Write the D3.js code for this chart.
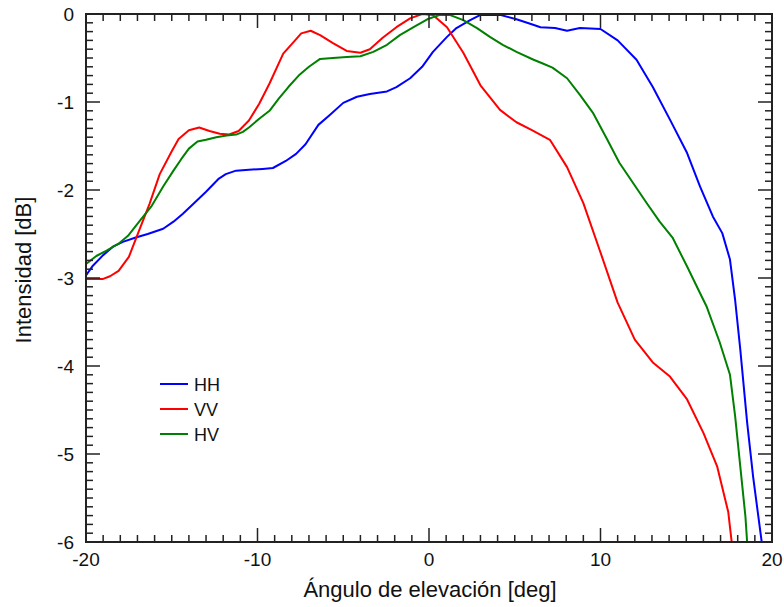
<!DOCTYPE html>
<html>
<head>
<meta charset="utf-8">
<script src="https://cdn.jsdelivr.net/npm/d3@7"></script>
<style>
  html, body { margin: 0; padding: 0; background: #fff; }
  svg { display: block; }
  text { font-family: "Liberation Sans", Arial, sans-serif; fill: #111; }
</style>
</head>
<body>
<svg id="chart" width="784" height="607"></svg>
<script>
// Elevation angle (deg) and relative intensity (dB) for each polarisation
const hhAngle = [-20, -19.6, -19.0, -18.4, -17.85, -17.1, -16.4, -15.5, -14.9, -14.35, -13.75, -13.0, -12.25, -11.85, -11.25, -10.5, -9.7, -9.1, -8.35, -7.75, -7.2, -6.45, -5.8, -5.0, -4.2, -3.45, -2.45, -1.9, -1.1, -0.4, 0.23, 1.05, 1.6, 2.4, 3.0, 4.14, 5.1, 5.9, 6.5, 7.35, 8.05, 8.8, 10.0, 11.0, 12.1, 13.05, 14.05, 15.05, 15.8, 16.55, 17.1, 17.55, 17.85, 18.15, 18.55, 18.9, 19.4];
const hhValue = [-2.97, -2.86, -2.74, -2.64, -2.59, -2.54, -2.50, -2.44, -2.36, -2.27, -2.16, -2.02, -1.87, -1.82, -1.78, -1.77, -1.76, -1.75, -1.67, -1.59, -1.48, -1.26, -1.15, -1.01, -0.94, -0.91, -0.88, -0.83, -0.73, -0.60, -0.43, -0.26, -0.16, -0.07, -0.01, -0.01, -0.06, -0.11, -0.15, -0.16, -0.19, -0.16, -0.17, -0.30, -0.52, -0.83, -1.20, -1.58, -1.96, -2.30, -2.49, -2.79, -3.25, -3.81, -4.64, -5.26, -6.0];

const vvAngle = [-20, -19.0, -18.6, -18.1, -17.5, -16.9, -16.3, -15.7, -15.0, -14.6, -14.0, -13.4, -12.8, -12.2, -11.65, -11.1, -10.5, -9.9, -9.3, -8.5, -7.9, -7.45, -6.9, -6.35, -5.6, -4.8, -4.0, -3.45, -2.7, -1.9, -1.1, -0.4, 0.23, 1.05, 2.0, 3.0, 4.14, 5.1, 6.0, 7.05, 8.05, 9.0, 10.0, 11.0, 12.0, 13.05, 14.05, 15.05, 16.0, 16.8, 17.45, 17.65];
const vvValue = [-3.01, -3.01, -2.98, -2.92, -2.76, -2.46, -2.16, -1.82, -1.56, -1.42, -1.32, -1.29, -1.33, -1.36, -1.37, -1.33, -1.21, -1.02, -0.79, -0.45, -0.32, -0.22, -0.19, -0.24, -0.33, -0.42, -0.44, -0.40, -0.27, -0.15, -0.05, 0.0, -0.01, -0.15, -0.44, -0.81, -1.09, -1.23, -1.32, -1.43, -1.74, -2.15, -2.71, -3.28, -3.70, -3.96, -4.12, -4.38, -4.76, -5.14, -5.66, -6.0];

const hvAngle = [-20, -19.4, -18.8, -18.1, -17.55, -16.9, -16.2, -15.5, -14.9, -14.45, -14.0, -13.5, -13.0, -12.4, -11.8, -11.25, -10.85, -10.5, -9.9, -9.3, -8.75, -8.2, -7.6, -7.0, -6.35, -5.6, -4.8, -4.0, -3.25, -2.45, -1.7, -0.9, -0.1, 0.64, 1.2, 2.0, 2.8, 3.55, 4.3, 5.1, 6.1, 6.6, 7.2, 8.05, 8.8, 9.55, 10.4, 11.1, 11.9, 12.7, 13.45, 14.2, 15.05, 15.8, 16.2, 16.95, 17.55, 17.85, 18.15, 18.45, 18.55];
const hvValue = [-2.84, -2.75, -2.69, -2.61, -2.52, -2.36, -2.19, -1.96, -1.78, -1.65, -1.53, -1.45, -1.43, -1.40, -1.38, -1.37, -1.34, -1.29, -1.19, -1.10, -0.96, -0.83, -0.70, -0.60, -0.51, -0.50, -0.49, -0.48, -0.43, -0.35, -0.24, -0.15, -0.06, -0.01, -0.01, -0.07, -0.16, -0.26, -0.35, -0.43, -0.52, -0.56, -0.61, -0.73, -0.92, -1.12, -1.43, -1.69, -1.92, -2.15, -2.36, -2.54, -2.87, -3.17, -3.33, -3.73, -4.10, -4.57, -5.14, -5.71, -6.0];

const seriesNames = ["HH", "VV", "HV"];
const seriesColors = ["#0000ff", "#ff0000", "#008000"];

const xTicks = [-20, -10, 0, 10, 20];
const yTicks = [0, -1, -2, -3, -4, -5, -6];

const series = [
  { name: seriesNames[0], color: seriesColors[0], pts: d3.zip(hhAngle, hhValue) },
  { name: seriesNames[1], color: seriesColors[1], pts: d3.zip(vvAngle, vvValue) },
  { name: seriesNames[2], color: seriesColors[2], pts: d3.zip(hvAngle, hvValue) }
];

const svg = d3.select("#chart");
const frame = { left: 86, right: 772, top: 14, bottom: 542 };

const x = d3.scaleLinear().domain([-20, 20]).range([frame.left, frame.right]);
const y = d3.scaleLinear().domain([-6, 0]).range([frame.bottom, frame.top]);

// clip curves to the plotting frame
svg.append("defs").append("clipPath").attr("id", "plotClip")
  .append("rect").attr("x", frame.left).attr("y", frame.top)
  .attr("width", frame.right - frame.left).attr("height", frame.bottom - frame.top);

const line = d3.line().x(d => x(d[0])).y(d => y(d[1]));

svg.append("g").attr("clip-path", "url(#plotClip)")
  .selectAll("path").data(series).join("path")
  .attr("d", d => line(d.pts))
  .attr("fill", "none")
  .attr("stroke", d => d.color)
  .attr("stroke-width", 2)
  .attr("stroke-linejoin", "round");

// frame and inward ticks on all four sides
const axisColor = "#222";
const majorLen = 14, minorLen = 7;
const xMinor = d3.range(-20, 20.001, 1).filter(v => !xTicks.includes(v));
const yMinor = d3.range(-60, 0.5, 1).map(v => v / 10).filter(v => !yTicks.includes(v));

const gAxes = svg.append("g").attr("stroke", axisColor).attr("stroke-width", 1.5);

function xTickLines(vals, len) {
  vals.forEach(v => {
    gAxes.append("line").attr("x1", x(v)).attr("x2", x(v)).attr("y1", frame.bottom).attr("y2", frame.bottom - len);
    gAxes.append("line").attr("x1", x(v)).attr("x2", x(v)).attr("y1", frame.top).attr("y2", frame.top + len);
  });
}
function yTickLines(vals, len) {
  vals.forEach(v => {
    gAxes.append("line").attr("x1", frame.left).attr("x2", frame.left + len).attr("y1", y(v)).attr("y2", y(v));
    gAxes.append("line").attr("x1", frame.right).attr("x2", frame.right - len).attr("y1", y(v)).attr("y2", y(v));
  });
}
xTickLines(xMinor, minorLen);
xTickLines(xTicks, majorLen);
yTickLines(yMinor, minorLen);
yTickLines(yTicks, majorLen);

gAxes.append("rect").attr("x", frame.left).attr("y", frame.top)
  .attr("width", frame.right - frame.left).attr("height", frame.bottom - frame.top)
  .attr("fill", "none").attr("stroke-width", 2);

// tick labels
svg.append("g").selectAll("text").data(xTicks).join("text")
  .attr("x", d => x(d)).attr("y", frame.bottom + 24)
  .attr("text-anchor", "middle").attr("font-size", 19)
  .text(d => d);

svg.append("g").selectAll("text").data(yTicks).join("text")
  .attr("x", frame.left - 12).attr("y", d => y(d) + 7)
  .attr("text-anchor", "end").attr("font-size", 19)
  .text(d => d);

// axis titles
svg.append("text")
  .attr("x", 430).attr("y", 597)
  .attr("text-anchor", "middle").attr("font-size", 22)
  .text("Ángulo de elevación [deg]");

svg.append("text")
  .attr("transform", "translate(31, 270) rotate(-90)")
  .attr("text-anchor", "middle").attr("font-size", 22)
  .text("Intensidad [dB]");

// legend
const legend = svg.append("g").attr("transform", "translate(160, 384)");
const rows = legend.selectAll("g").data(series).join("g")
  .attr("transform", (d, i) => `translate(0, ${i * 25})`);
rows.append("line").attr("x1", 0).attr("x2", 28).attr("y1", 0).attr("y2", 0)
  .attr("stroke", d => d.color).attr("stroke-width", 2);
rows.append("text").attr("x", 34).attr("y", 7).attr("font-size", 18)
  .text(d => d.name);
</script>
</body>
</html>
